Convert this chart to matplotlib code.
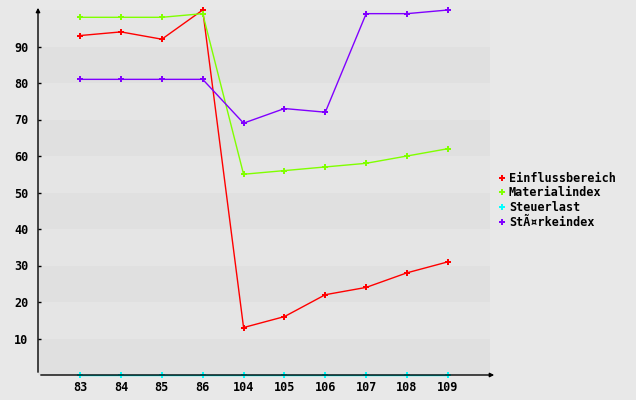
import matplotlib.pyplot as plt

# Data
categories = ['83', '84', '85', '86', '104', '105', '106', '107', '108', '109']
einfluss = [93, 94, 92, 100, 13, 16, 22, 24, 28, 31]
material = [98, 98, 98, 99, 55, 56, 57, 58, 60, 62]
steuer = [0, 0, 0, 0, 0, 0, 0, 0, 0, 0]
staerke = [81, 81, 81, 81, 69, 73, 72, 99, 99, 100]

series = [
    ('Einflussbereich', einfluss, '#ff0000'),
    ('Materialindex', material, '#80ff00'),
    ('Steuerlast', steuer, '#00ffff'),
    ('StÃ¤rkeindex', staerke, '#8000ff'),
]

font = dict(family='DejaVu Sans Mono', weight='bold', size=8.5)

fig = plt.figure(figsize=(6.36, 4.0), dpi=100, facecolor='#e8e8e8')
ax = fig.add_axes([38 / 636, 25 / 400, 452 / 636, 365 / 400])
ax.set_facecolor('#e8e8e8')

# alternating horizontal bands
for i in range(10):
    ax.axhspan(i * 10, i * 10 + 10, color='#e0e0e0' if i % 2 == 0 else '#e5e5e5', lw=0, zorder=0)

x = list(range(len(categories)))
for name, vals, col in series:
    ax.plot(x, vals, color=col, lw=1, marker='P', markersize=3.8, markeredgewidth=0,
            label=name, zorder=3, clip_on=False)

ax.set_xlim(-1.03, 10.03)
ax.set_ylim(0, 100)
for s in ax.spines.values():
    s.set_visible(False)

ax.set_xticks(x)
ax.set_xticklabels(categories, **font)
ax.set_yticks(range(10, 100, 10))
ax.set_yticklabels([str(v) for v in range(10, 100, 10)], **font)
ax.tick_params(axis='x', length=0, pad=4.5)
ax.tick_params(axis='y', direction='in', length=2, width=1, pad=7)

# axis lines with arrows
ax.annotate('', xy=(38 / 636, 395 / 400), xytext=(38 / 636, 25 / 400), xycoords='figure fraction',
            arrowprops=dict(arrowstyle='-|>', color='black', lw=1, mutation_scale=6))
ax.annotate('', xy=(497 / 636, 25 / 400), xytext=(38 / 636, 25 / 400), xycoords='figure fraction',
            arrowprops=dict(arrowstyle='-|>', color='black', lw=1, mutation_scale=6))

leg = fig.legend(loc='upper left', bbox_to_anchor=(494 / 636, 1 - 167 / 400), frameon=False,
                 prop=font, handlelength=0.6, handletextpad=0.25, labelspacing=0.15,
                 borderaxespad=0)
for h in leg.legend_handles:
    h.set_linestyle('None')

plt.savefig('out.png', dpi=100, facecolor=fig.get_facecolor())
